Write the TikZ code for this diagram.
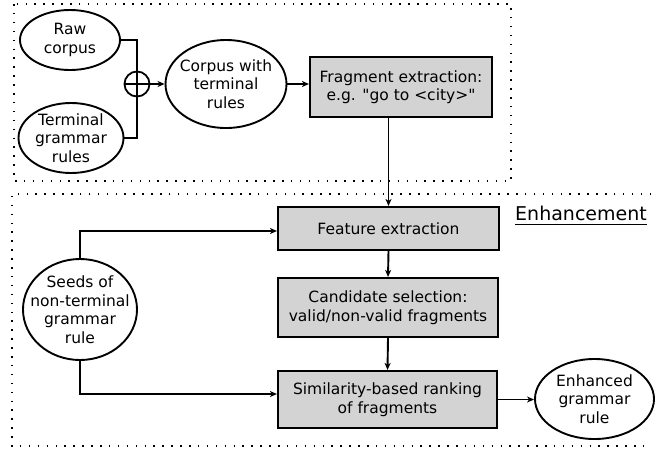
\documentclass[tikz,border=0pt]{standalone}
\usepackage{fontspec}
\setmainfont{DejaVu Sans}[Ligatures=TeXOff]
\usetikzlibrary{shapes.geometric,arrows.meta}
\definecolor{boxgray}{RGB}{211,211,211}
\begin{document}
\begin{tikzpicture}[x=1pt,y=-1pt,
  font=\fontsize{15.5}{18.5}\selectfont,
  every label/.style={align=center,inner sep=0pt},
  oval/.style={ellipse,draw,line width=1.9pt,inner sep=0pt},
  stagebox/.style={rectangle,draw,line width=2.1pt,fill=boxgray,align=center,inner sep=0pt},
  link/.style={line width=1.9pt},
  flow/.style={link,-{Stealth[length=7pt,width=6pt,inset=2pt]}},
  frame/.style={line width=1.5pt,dash pattern=on 1.5pt off 7.4pt,line cap=butt}]
\useasboundingbox (0,0) rectangle (655,448);

% dotted frames around the two stages
\draw[frame] (14,4) rectangle (511,181);
\draw[frame] (651,194) -- (12,194) -- (12,446) -- (651,446);

% corpus preparation
\node[oval,minimum width=100pt,minimum height=60pt,
      label=center:{Raw\\corpus}] (raw) at (70,40) {};
\node[oval,minimum width=105pt,minimum height=70pt,
      label=center:{Terminal\\grammar\\rules}] (term) at (71,138) {};
\node[circle,draw,line width=1.8pt,minimum size=25pt,inner sep=0pt] (plus) at (137,84) {};
\node[oval,minimum width=121pt,minimum height=88pt,
      label=center:{Corpus with\\terminal\\rules}] (corpus) at (226,84) {};
\node[stagebox,minimum width=182pt,minimum height=60pt] (frag) at (401,87)
  {Fragment extraction:\\e.g. "go to <city>"};

% enhancement stage
\node[stagebox,minimum width=221pt,minimum height=43pt] (feat) at (388.5,228.5) {Feature extraction};
\node[stagebox,minimum width=220pt,minimum height=59pt] (cand) at (388,307.5)
  {Candidate selection:\\valid/non-valid fragments};
\node[stagebox,minimum width=219pt,minimum height=57pt] (sim) at (387.5,399.5)
  {Similarity-based ranking\\of fragments};
\node[oval,minimum width=114pt,minimum height=101pt,
      label=center:{Seeds of\\non-terminal\\grammar\\rule}] (seeds) at (80,309.5) {};
\node[oval,minimum width=119pt,minimum height=80pt,
      label=center:{Enhanced\\grammar\\rule}] (enh) at (594.5,399) {};
\node[anchor=base west,inner sep=0pt,font=\fontsize{19}{22}\selectfont] (title) at (515,220) {Enhancement};
\draw[line width=1.4pt] ([yshift=-4.5pt]title.base west) -- ([yshift=-4.5pt]title.base east);

% connectors
\draw[link] (raw.east) -| (plus.center) |- (term.east);
\draw[link] (plus.north) -- (plus.south);
\draw[flow] (plus.west) -- (corpus.west);
\draw[flow] (corpus.east) -- (corpus.east -| frag.west);
\draw[flow] (feat.north |- frag.south) -- (feat.north);
\draw[flow] (feat.south) -- (cand.north);
\draw[flow] (cand.south) -- (sim.north);
\draw[flow] (sim.east) -- (sim.east -| enh.west);
\draw[flow] (seeds.north) |- ([yshift=-2.5pt]feat.west);
\draw[flow] (seeds.south) |- ([yshift=5.5pt]sim.west);
\end{tikzpicture}
\end{document}
